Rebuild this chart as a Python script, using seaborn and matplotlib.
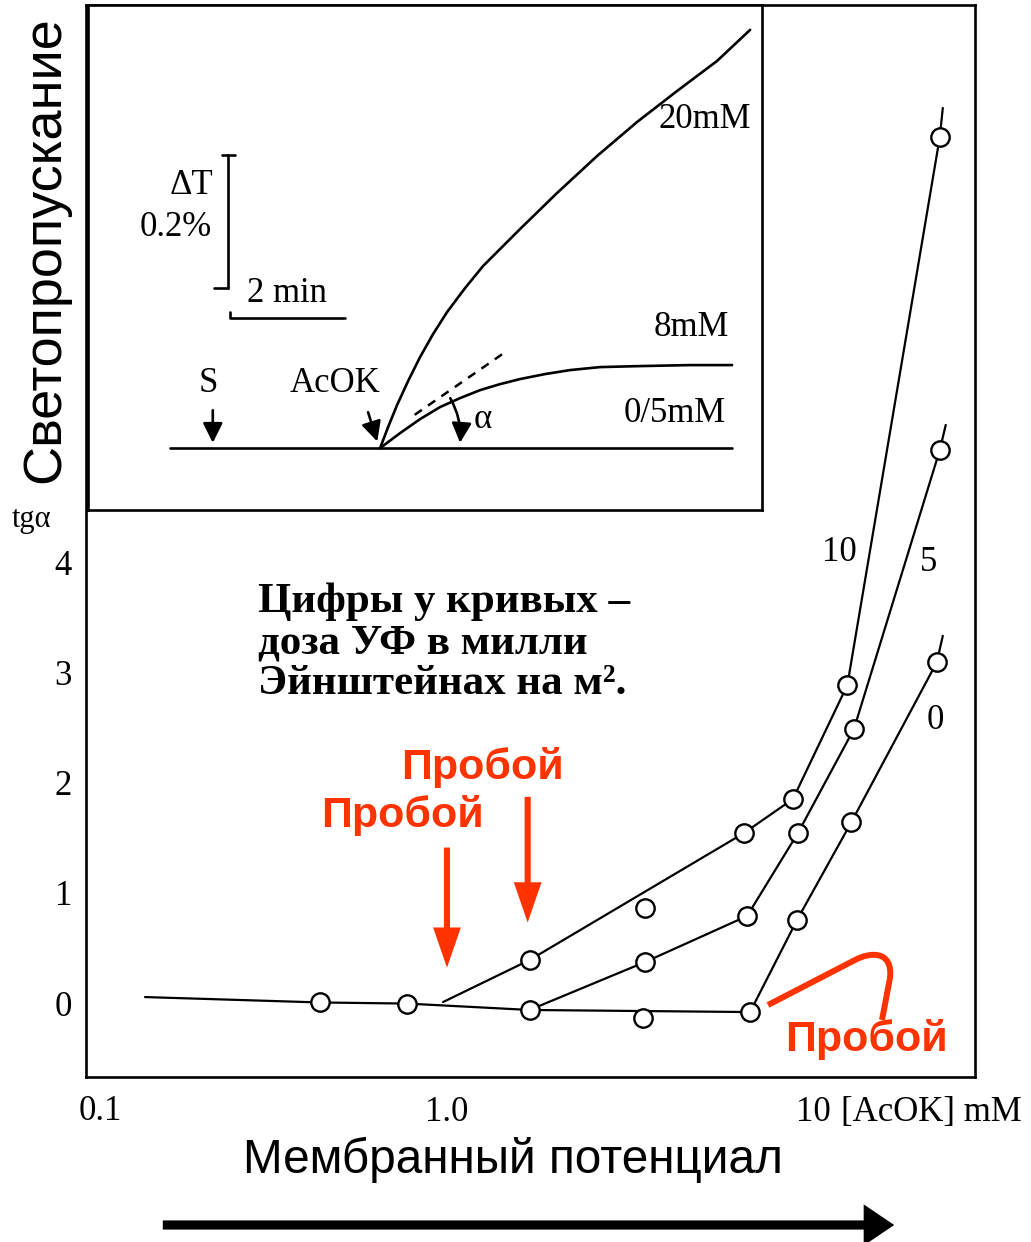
import matplotlib
matplotlib.use("Agg")
import matplotlib.pyplot as plt
import matplotlib.transforms as mtransforms
from matplotlib.patches import FancyArrowPatch, PathPatch
from matplotlib.path import Path
from matplotlib.ticker import NullLocator
import seaborn as sns

# ---------------------------------------------------------------- data
# tg(alpha) versus AcOK concentration (mM); curves labelled by UV dose
line0_conc = [0.1535, 0.455, 0.78, 1.67, 6.56, 8.78, 12.3, 20.9, 21.7]
line0_tg = [0.054, 0.005, -0.005, -0.063, -0.082, 0.753, 1.64, 3.09, 3.33]
pts0_conc = [0.455, 0.78, 1.67, 3.38, 6.56, 8.78, 12.3, 20.9]
pts0_tg = [0.005, -0.005, -0.063, -0.136, -0.082, 0.753, 1.64, 3.09]

line5_conc = [1.67, 3.42, 6.44, 8.83, 12.5, 21.3, 22.1]
line5_tg = [-0.063, 0.372, 0.789, 1.542, 2.485, 5.016, 5.243]
pts5_conc = [3.42, 6.44, 8.83, 12.5, 21.3]
pts5_tg = [0.372, 0.789, 1.542, 2.485, 5.016]

line10_conc = [0.976, 1.67, 6.32, 8.56, 12.0, 21.3, 21.7]
line10_tg = [0.009, 0.39, 1.542, 1.85, 2.884, 7.855, 8.118]
pts10_conc = [1.67, 3.42, 6.32, 8.56, 12.0, 21.3]
pts10_tg = [0.39, 0.862, 1.542, 1.85, 2.884, 7.855]

y_ticks = [0, 1, 2, 3, 4]
x_ticks = [1.0, 10.0]
x_tick_labels = ["1.0", "10 "]

# inset: transmission change (%) versus time (min); AcOK added at t = 5 min
t_20mM = [5.009, 5.148, 5.304, 5.496, 5.704, 5.930, 6.174, 6.487, 6.800,
          7.443, 8.087, 8.783, 9.478, 10.174, 10.870, 11.443]
dT_20mM = [0.0, 0.0316, 0.0647, 0.1008, 0.1368, 0.1714, 0.2045, 0.2406,
           0.2737, 0.3293, 0.3835, 0.4391, 0.4902, 0.5368, 0.5820, 0.6286]
t_8mM = [5.009, 5.357, 5.704, 6.052, 6.400, 6.748, 7.096, 7.443, 7.878,
         8.313, 8.835, 9.530, 10.400, 11.130]
dT_8mM = [0.0, 0.0226, 0.0436, 0.0617, 0.0752, 0.0872, 0.0962, 0.1038,
          0.1113, 0.1173, 0.1218, 0.1233, 0.1248, 0.1248]
t_05mM = [1.36, 11.13]
dT_05mM = [0.0, 0.0]
t_tangent = [5.61, 7.23]
dT_tangent = [0.050, 0.147]

# ---------------------------------------------------------------- setup
sns.set_theme(style="white")
plt.rcParams['font.family'] = ['Liberation Serif', 'DejaVu Serif']
plt.rcParams['text.color'] = 'black'
plt.rcParams['axes.labelcolor'] = 'black'
W, H = 1031, 1242
fig = plt.figure(figsize=(W / 100, H / 100), dpi=100)
fig.patch.set_facecolor("white")
pix = mtransforms.Affine2D().scale(1, -1).translate(0, H)   # top-left pixel space

RED = "#ff3300"
SANS = ['Liberation Sans', 'DejaVu Sans']


def ptext(x, y, s, **kw):
    return fig.text(x, y, s, transform=pix, **kw)


# ---------------------------------------------------------------- main axes
ax = fig.add_axes([86 / W, 1 - 1077 / H, 889 / W, 1072 / H])
ax.set_facecolor("white")
ax.set_xscale("log")

curves = [
    (line0_conc, line0_tg, pts0_conc, pts0_tg),
    (line5_conc, line5_tg, pts5_conc, pts5_tg),
    (line10_conc, line10_tg, pts10_conc, pts10_tg),
]
for lc, lt, pc, pt in curves:
    sns.lineplot(x=lc, y=lt, ax=ax, sort=False, estimator=None,
                 color="black", lw=1.6, zorder=2)
    sns.scatterplot(x=pc, y=pt, ax=ax, s=175, facecolor="white",
                    edgecolor="black", linewidth=1.7, zorder=3)

ax.set_xlim(0.1064, 26.5)
ax.set_ylim(-0.671, 9.052)
ax.set_yticks(y_ticks)
ax.set_yticklabels([str(v) for v in y_ticks])
ax.set_xticks(x_ticks)
ax.set_xticklabels(x_tick_labels)
ax.xaxis.set_minor_locator(NullLocator())
ax.tick_params(axis="both", direction="in", length=8, width=1.8,
               labelsize=25, colors="black")
ax.tick_params(axis="y", pad=10)
ax.tick_params(axis="x", pad=14)
for sp in ax.spines.values():
    sp.set_visible(True)
    sp.set_color("black")
    sp.set_linewidth(1.9)
ax.set_xlabel("")
ax.set_ylabel("")

# curve labels (UV dose)
ax.text(0.828, 0.489, "10", transform=ax.transAxes, fontsize=25, va="center")
ax.text(0.938, 0.4795, "5", transform=ax.transAxes, fontsize=25, va="center")
ax.text(0.946, 0.333, "0", transform=ax.transAxes, fontsize=25, va="center")

# breakdown arrows
arrow_style = "simple,head_length=1.45,head_width=1.0,tail_width=0.22"
ax.annotate("", xy=(1.0, 0.32), xytext=(1.0, 1.41),
            arrowprops=dict(arrowstyle=arrow_style, mutation_scale=20,
                            color=RED, lw=0, shrinkA=0, shrinkB=0))
ax.annotate("", xy=(1.65, 0.73), xytext=(1.65, 1.87),
            arrowprops=dict(arrowstyle=arrow_style, mutation_scale=20,
                            color=RED, lw=0, shrinkA=0, shrinkB=0))

# ---------------------------------------------------------------- inset
ai = fig.add_axes([88 / W, 1 - 510 / H, (762 - 88) / W, 505 / H])
ai.set_facecolor("white")
for tt, dd in [(t_20mM, dT_20mM), (t_8mM, dT_8mM), (t_05mM, dT_05mM)]:
    sns.lineplot(x=tt, y=dd, ax=ai, sort=False, estimator=None,
                 color="black", lw=1.9)
sns.lineplot(x=t_tangent, y=dT_tangent, ax=ai, sort=False, estimator=None,
             color="black", lw=1.8, linestyle=(0, (3.5, 3)))
ai.set_xlim(-0.07, 11.65)
ai.set_ylim(-0.093, 0.666)
ai.set_xticks([])
ai.set_yticks([])
ai.set_xlabel("")
ai.set_ylabel("")
for sp in ai.spines.values():
    sp.set_visible(True)
    sp.set_color("black")
    sp.set_linewidth(1.9)

# scale bars: 0.2 % and 2 min
bar_t, bar_lo, bar_hi = 2.37, 0.241, 0.441
ai.plot([bar_t, bar_t], [bar_lo, bar_hi], color="black", lw=1.9)
ai.plot([2.26, 2.48], [bar_hi, bar_hi], color="black", lw=1.9)
ai.plot([2.12, bar_t], [bar_lo, bar_lo], color="black", lw=1.9)
ai.plot([2.40, 2.40, 4.40], [0.205, 0.195, 0.195], color="black", lw=1.9)

small_arrow = dict(arrowstyle="-|>,head_length=0.6,head_width=0.3",
                   color="black", lw=1.9, shrinkA=0, shrinkB=0,
                   mutation_scale=20)
ai.annotate("", xy=(2.10, 0.008), xytext=(2.10, 0.057), arrowprops=small_arrow)
ai.annotate("", xy=(4.96, 0.010), xytext=(4.80, 0.054), arrowprops=small_arrow)
ai.annotate("", xy=(6.40, 0.008), xytext=(6.23, 0.075),
            arrowprops=dict(small_arrow, connectionstyle="arc3,rad=-0.15"))

FS_IN = 25
ptext(213, 185, "ΔT", fontsize=FS_IN, ha="right", va="center")
ptext(176, 228, "0.2%", fontsize=FS_IN, ha="center", va="center")
ptext(287, 293, "2 min", fontsize=FS_IN, ha="center", va="center")
ptext(208, 383, "S", fontsize=FS_IN, ha="center", va="center")
ptext(335, 383, "AcOK", fontsize=FS_IN, ha="center", va="center")
ptext(751, 120, "20mM", fontsize=FS_IN, ha="right", va="center")
ptext(729, 328, "8mM", fontsize=FS_IN, ha="right", va="center")
ptext(726, 413, "0/5mM", fontsize=FS_IN, ha="right", va="center")
ptext(483, 420, "α", fontsize=FS_IN, ha="center", va="center")

# ---------------------------------------------------------------- texts
ptext(100, 1112, "0.1", fontsize=25, ha="center", va="center")
ptext(841, 1112, "[AcOK] mM", fontsize=25, ha="left", va="center")
ptext(31, 520, "tgα", fontsize=22, ha="center", va="center")

ptext(258, 643, "Цифры у кривых –\nдоза УФ в милли\nЭйнштейнах на м².",
      fontsize=31, fontweight="bold", ha="left", va="center",
      linespacing=1.1)

ptext(482, 768, "Пробой", fontsize=31, fontweight="bold", color=RED,
      family=SANS, ha="center", va="center")
ptext(402, 815, "Пробой", fontsize=31, fontweight="bold", color=RED,
      family=SANS, ha="center", va="center")
ptext(866, 1040, "Пробой", fontsize=31, fontweight="bold", color=RED,
      family=SANS, ha="center", va="center")

hook = Path([(768, 1005), (855, 960), (870, 952), (893, 950), (890, 978),
             (882, 1020)],
            [Path.MOVETO, Path.LINETO, Path.CURVE4, Path.CURVE4, Path.CURVE4,
             Path.LINETO])
fig.add_artist(PathPatch(hook, transform=pix, facecolor="none",
                         edgecolor=RED, lw=4.3, capstyle="butt"))

ptext(45, 250, "Светопропускание", fontsize=39, family=SANS,
      rotation=90, ha="center", va="center")
ptext(513, 1160, "Мембранный потенциал", fontsize=34.4, family=SANS,
      ha="center", va="center")
fig.add_artist(FancyArrowPatch((160, 1225), (897, 1225), transform=pix,
                               arrowstyle="simple,head_length=1.0,head_width=1.35,tail_width=0.3",
                               mutation_scale=22, color="black", lw=0))

fig.savefig("out.png", dpi=100, facecolor="white")
